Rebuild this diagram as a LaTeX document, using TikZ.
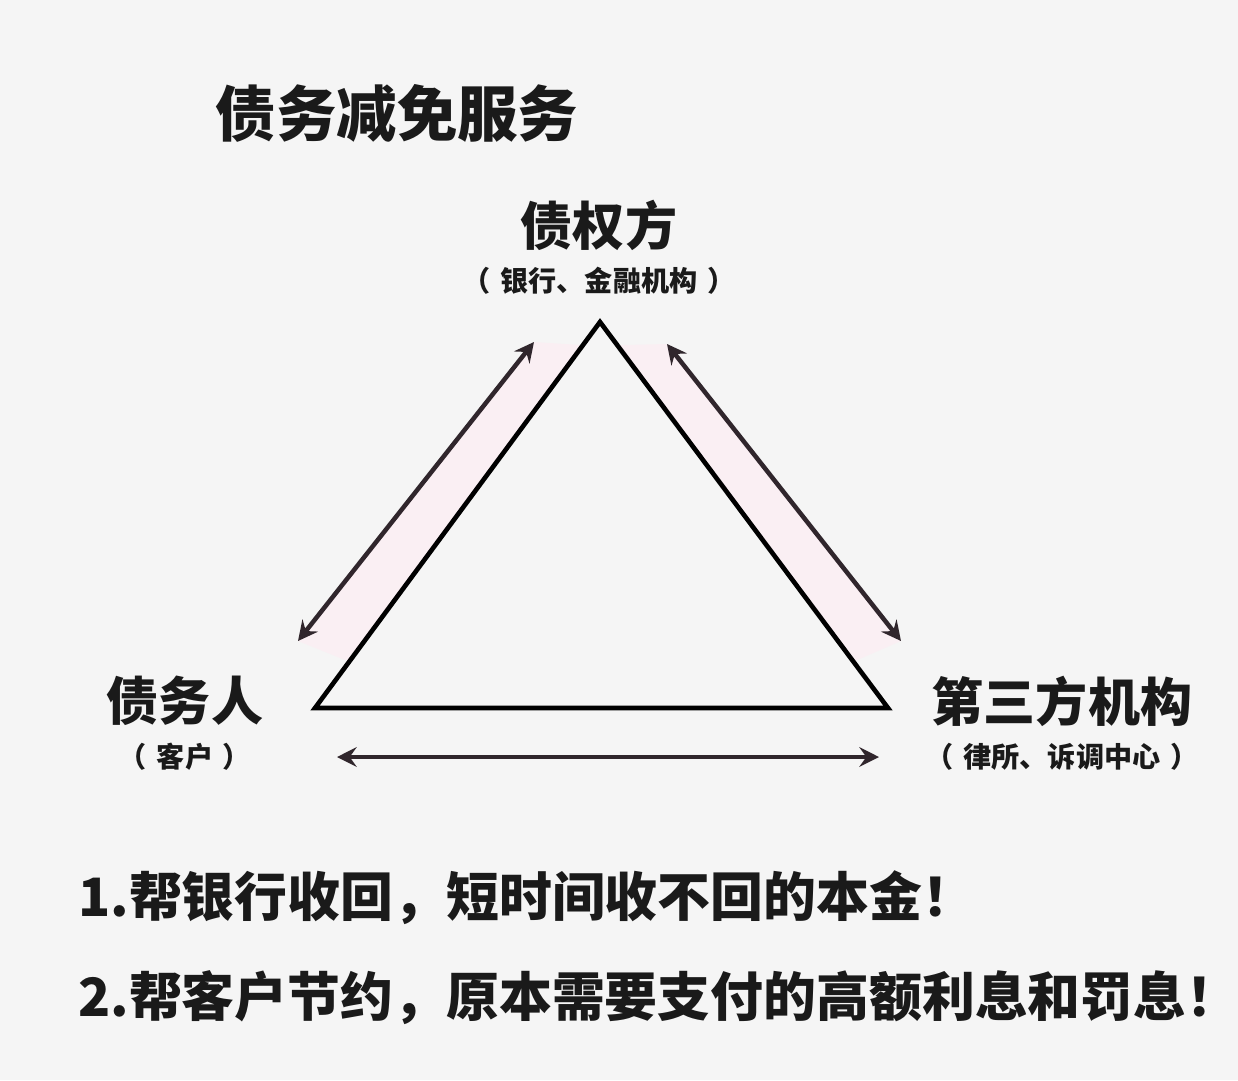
\documentclass[tikz,border=0pt]{standalone}
\usepackage{fontspec}
\newfontfamily\cjk{Noto Sans CJK SC}
\usetikzlibrary{arrows.meta,calc}

\definecolor{bg}{RGB}{245,245,245}
\definecolor{ink}{RGB}{26,26,26}
\definecolor{arrowink}{RGB}{48,38,44}
\definecolor{glow}{RGB}{250,239,243}

\newcommand{\gap}{\hspace{0.35em}}

\begin{document}
\begin{tikzpicture}[%
>={Stealth[length=14pt,width=14pt,inset=5pt]},
x=0.025cm,
y=-0.025cm,
txt/.style={text=ink, font=\cjk\bfseries, inner sep=0pt},
party/.style={txt, font=\cjk\bfseries\fontsize{37}{40}\selectfont},
note/.style={txt, font=\cjk\bfseries\fontsize{20}{24}\selectfont},
point/.style={txt, anchor=west, font=\cjk\bfseries\fontsize{37.6}{42}\selectfont},
side/.style={draw=black, line width=3.3pt, line join=miter},
link/.style={<->, draw=arrowink, line width=3.2pt}
]

\fill[bg] (0,0) rectangle (1238,1080);
\useasboundingbox (0,0) rectangle (1238,1080);

% corners of the triangle
\coordinate (top)   at (600,322);
\coordinate (left)  at (315,708);
\coordinate (right) at (888,708);

% ends of the arrows
\coordinate (l1) at (298,641);
\coordinate (l2) at (534,342);
\coordinate (r1) at (667,344);
\coordinate (r2) at (901,641);
\coordinate (b1) at (337,757);
\coordinate (b2) at (879,757);

% faint tint beside the edges
\fill[glow] (l1) -- (l2) -- ($(top)!0.06!(left)$) -- ($(top)!0.88!(left)$) -- cycle;
\fill[glow] (r1) -- (r2) -- ($(top)!0.88!(right)$) -- ($(top)!0.06!(right)$) -- cycle;

\node[txt, font=\cjk\bfseries\fontsize{43}{46}\selectfont] (title) at (397,113) {债务减免服务};

\node[party] (creditor) at (599,225) {债权方};
\node[note]  (creditorsub) at (599,281) {（\gap 银行、金融机构\gap ）};
\node[party] (debtor) at (185,701) {债务人};
\node[note]  (debtorsub) at (185,757) {（\gap 客户\gap ）};
\node[party] (third) at (1062,701) {第三方机构};
\node[note]  (thirdsub) at (1062,757) {（\gap 律所、诉调中心\gap ）};

\draw[side] (top) -- (left) -- (right) -- cycle;

\draw[link] (l1) -- (l2);
\draw[link] (r1) -- (r2);
\draw[link] (b1) -- (b2);

\node[point] (p1) at (78,898) {1.帮银行收回，短时间收不回的本金！};
\node[point] (p2) at (78,998) {2.帮客户节约，原本需要支付的高额利息和罚息！};

\end{tikzpicture}
\end{document}
